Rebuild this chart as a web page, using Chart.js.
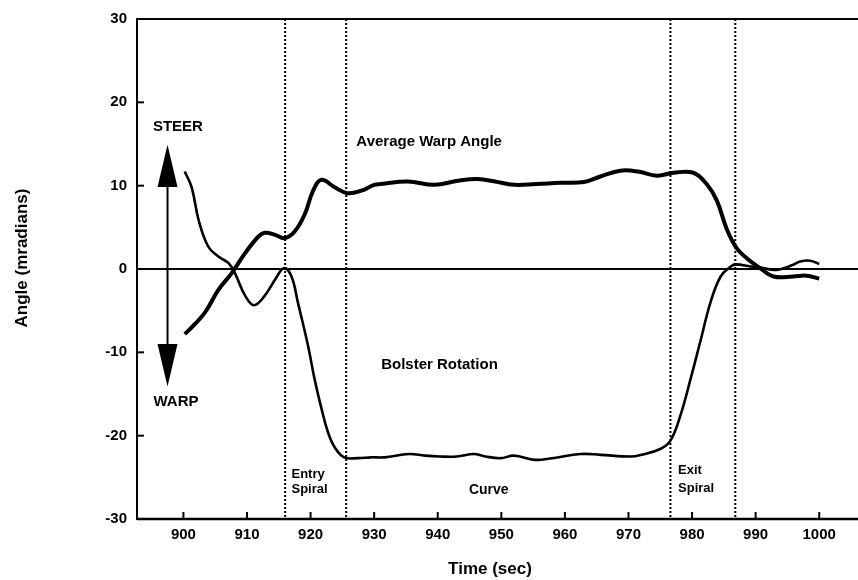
<!DOCTYPE html>
<html>
<head>
<meta charset="utf-8">
<script src="https://cdn.jsdelivr.net/npm/chart.js@4.4.1/dist/chart.umd.min.js"></script>
<style>
  html, body { margin: 0; padding: 0; background: #ffffff; }
  #wrap { width: 858px; height: 580px; }
</style>
</head>
<body>
<div id="wrap"><canvas id="angle-chart"></canvas></div>
<script>
// Average warp angle (mradians) against time (sec)
const warp_time = [900.2, 900.8, 903.4, 905.5, 907.6, 909.7, 911.8, 912.8, 914.4, 915.9,
  917.5, 919.1, 920.4, 921.7, 923.8, 925.8, 928.0, 930.0, 931.1, 935.3, 939.5, 943.2,
  946.3, 949.0, 952.0, 955.5, 959.3, 963.0, 965.6, 968.7, 971.5, 974.5, 977.1, 980.2,
  982.3, 983.9, 985.5, 987.0, 988.6, 990.7, 992.8, 995.9, 998.0, 1000.0];
const warp_angle = [-7.8, -7.4, -5.2, -2.5, -0.5, 1.9, 3.9, 4.35, 4.1, 3.7,
  4.5, 6.6, 9.4, 10.7, 9.8, 9.1, 9.4, 10.1, 10.2, 10.5, 10.1, 10.6,
  10.8, 10.5, 10.1, 10.2, 10.35, 10.45, 11.1, 11.8, 11.7, 11.2, 11.55, 11.55,
  10.2, 8.2, 4.7, 2.5, 1.3, 0.1, -0.9, -0.9, -0.8, -1.15];

// Bolster rotation (mradians) against time (sec)
const bolster_time = [900.2, 901.3, 902.4, 903.9, 905.5, 907.1, 908.1, 909.7, 911.1, 912.8,
  914.4, 915.8, 917.0, 918.0, 919.6, 920.6, 921.7, 922.7, 923.8, 925.3, 927.5, 929.5,
  931.6, 935.5, 938.0, 940.3, 943.0, 945.7, 947.5, 949.9, 952.0, 955.3, 958.0, 962.5,
  965.6, 970.3, 972.0, 975.0, 976.6, 978.2, 979.8, 981.4, 982.9, 984.5, 986.1, 986.9,
  989.2, 990.5, 993.3, 995.9, 997.0, 998.6, 1000.0];
const bolster_rotation = [11.7, 9.8, 5.85, 2.7, 1.5, 0.7, -0.5, -3.2, -4.35, -3.2,
  -1.3, 0.1, -0.9, -4.0, -9.2, -13.1, -16.7, -19.5, -21.4, -22.6, -22.7, -22.6,
  -22.6, -22.2, -22.4, -22.5, -22.5, -22.2, -22.5, -22.7, -22.4, -22.9, -22.7, -22.2,
  -22.3, -22.5, -22.3, -21.6, -20.6, -17.5, -13.1, -8.4, -4.0, -0.9, 0.3, 0.55,
  0.3, 0.2, -0.1, 0.5, 0.9, 1.0, 0.6];

// tick values and the spiral boundaries (sec)
const x_ticks = [900, 910, 920, 930, 940, 950, 960, 970, 980, 990, 1000];
const y_ticks = [-30, -20, -10, 0, 10, 20, 30];
const spiral_marks = [916, 925.6, 976.6, 986.8];

const FONT = "'Liberation Sans', Arial, Helvetica, sans-serif";

const to_points = (xs, ys) => xs.map((t, i) => ({ x: t, y: ys[i] }));

function seg(ctx, x1, y1, x2, y2) {
  ctx.beginPath();
  ctx.moveTo(x1, y1);
  ctx.lineTo(x2, y2);
  ctx.stroke();
}

// frame, zero line, inward ticks and dotted spiral marks
const frame = {
  id: "frame",
  beforeDatasetsDraw(chart) {
    const { ctx, chartArea: a, scales: { x, y } } = chart;
    ctx.save();
    ctx.strokeStyle = "#000";
    ctx.lineCap = "butt";

    ctx.lineWidth = 2;
    ctx.setLineDash([2, 2]);
    spiral_marks.forEach((t) => {
      const px = x.getPixelForValue(t);
      seg(ctx, px, a.top, px, a.bottom);
    });
    ctx.setLineDash([]);

    ctx.lineWidth = 2;
    seg(ctx, a.left, a.top, a.right, a.top);
    seg(ctx, a.left, a.top - 1, a.left, a.bottom + 1);
    ctx.lineWidth = 2.5;
    seg(ctx, a.left, a.bottom, a.right, a.bottom);
    ctx.lineWidth = 2;
    const y0 = y.getPixelForValue(0);
    seg(ctx, a.left, y0, a.right, y0);

    x_ticks.forEach((t) => {
      const px = x.getPixelForValue(t);
      seg(ctx, px, a.bottom, px, a.bottom - 7);
    });
    y_ticks.forEach((v) => {
      const py = y.getPixelForValue(v);
      seg(ctx, a.left, py, a.left + 7, py);
    });
    ctx.restore();
  },
  afterDatasetsDraw(chart) {
    const { ctx, scales: { x, y } } = chart;
    ctx.save();
    ctx.fillStyle = "#000";
    ctx.strokeStyle = "#000";
    ctx.textBaseline = "middle";
    ctx.textAlign = "left";

    const label = (txt, t, v, size) => {
      ctx.font = "bold " + size + "px " + FONT;
      ctx.fillText(txt, x.getPixelForValue(t), y.getPixelForValue(v));
    };
    label("STEER", 895.2, 17.0, 15);
    label("WARP", 895.3, -15.9, 15);
    label("Average Warp Angle", 927.2, 15.3, 15);
    label("Bolster Rotation", 931.1, -11.5, 15);
    label("Entry", 917.0, -24.6, 13);
    label("Spiral", 917.0, -26.5, 13);
    label("Curve", 944.9, -26.5, 14);
    label("Exit", 977.8, -24.2, 13);
    label("Spiral", 977.8, -26.3, 13);

    // steer / warp double arrow
    const ax = x.getPixelForValue(897.5);
    const top_tip = y.getPixelForValue(14.9);
    const top_base = y.getPixelForValue(9.85);
    const bot_base = y.getPixelForValue(-9.0);
    const bot_tip = y.getPixelForValue(-14.1);
    ctx.lineWidth = 2;
    seg(ctx, ax, top_base, ax, bot_base);
    ctx.beginPath();
    ctx.moveTo(ax, top_tip);
    ctx.lineTo(ax - 10, top_base);
    ctx.lineTo(ax + 10, top_base);
    ctx.closePath();
    ctx.fill();
    ctx.beginPath();
    ctx.moveTo(ax, bot_tip);
    ctx.lineTo(ax - 10, bot_base);
    ctx.lineTo(ax + 10, bot_base);
    ctx.closePath();
    ctx.fill();

    // axis titles
    ctx.font = "bold 17px " + FONT;
    ctx.textAlign = "center";
    ctx.fillText("Time (sec)", 490, 569);
    ctx.translate(22, 258);
    ctx.rotate(-Math.PI / 2);
    ctx.fillText("Angle (mradians)", 0, 0);
    ctx.restore();
  },
};

new Chart(document.getElementById("angle-chart"), {
  type: "line",
  data: {
    datasets: [
      {
        label: "Average Warp Angle",
        data: to_points(warp_time, warp_angle),
        borderColor: "#000000",
        borderWidth: 4,
        pointRadius: 0,
        tension: 0.4,
        fill: false,
      },
      {
        label: "Bolster Rotation",
        data: to_points(bolster_time, bolster_rotation),
        borderColor: "#000000",
        borderWidth: 2.6,
        pointRadius: 0,
        tension: 0.4,
        fill: false,
      },
    ],
  },
  options: {
    responsive: true,
    maintainAspectRatio: false,
    animation: false,
    layout: { padding: { top: 13, left: 0, right: 0, bottom: 0 } },
    scales: {
      x: {
        type: "linear",
        min: 892.7,
        max: 1006.1,
        afterBuildTicks: (s) => { s.ticks = x_ticks.map((v) => ({ value: v })); },
        afterFit: (s) => { s.height = 61; },
        grid: { display: false, drawTicks: false },
        border: { display: false },
        ticks: {
          color: "#000",
          padding: 7,
          autoSkip: false,
          maxRotation: 0,
          callback: (v) => String(v),
          font: { family: FONT, size: 15, weight: "bold" },
        },
      },
      y: {
        min: -30,
        max: 30,
        afterBuildTicks: (s) => { s.ticks = y_ticks.map((v) => ({ value: v })); },
        afterFit: (s) => { s.width = 137; },
        grid: { display: false, drawTicks: false },
        border: { display: false },
        ticks: {
          color: "#000",
          padding: 10,
          callback: (v) => String(v),
          font: { family: FONT, size: 15, weight: "bold" },
        },
      },
    },
    plugins: {
      legend: { display: false },
      tooltip: { enabled: false },
      title: { display: false },
    },
  },
  plugins: [frame],
});
</script>
</body>
</html>
